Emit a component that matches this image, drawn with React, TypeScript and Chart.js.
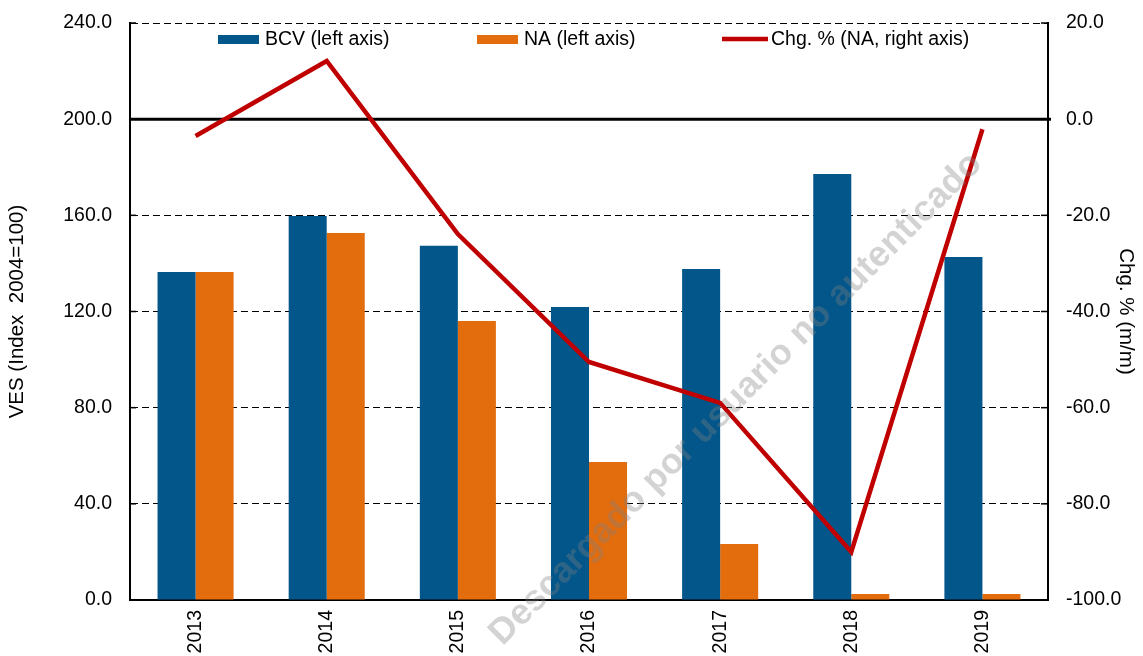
import React, { useEffect, useRef } from "react";
import { Chart, registerables } from "chart.js";

Chart.register(...registerables);

const years = ["2013", "2014", "2015", "2016", "2017", "2018", "2019"];
const bcvValues = [136.4, 159.7, 147.3, 121.9, 137.7, 177.2, 142.7];
const naValues = [136.4, 152.7, 116.1, 57.4, 23.3, 2.5, 2.5];
const chgValues = [-3.5, 12.1, -23.9, -50.5, -59.0, -90.0, -2.1];

const leftMin = 0;
const leftMax = 240;
const leftStep = 40;
const rightMin = -100;
const rightMax = 20;
const rightStep = 20;

const BLUE = "#02568A";
const ORANGE = "#E36C0D";
const RED = "#C00000";
const FONT = "'Liberation Sans', Arial, sans-serif";

const legendItems = [
  { label: "BCV (left axis)", color: BLUE, kind: "box" },
  { label: "NA (left axis)", color: ORANGE, kind: "box" },
  { label: "Chg. % (NA, right axis)", color: RED, kind: "line" },
];

const extrasPlugin = {
  id: "extras",
  beforeDatasetsDraw(chart: any) {
    const { ctx, chartArea, scales } = chart;
    const y0 = scales.y1.getPixelForValue(0);
    ctx.save();
    ctx.strokeStyle = "#000";
    ctx.lineWidth = 3;
    ctx.beginPath();
    ctx.moveTo(chartArea.left, y0);
    ctx.lineTo(chartArea.right + 3, y0);
    ctx.stroke();
    // inner tick marks
    ctx.lineWidth = 1.5;
    scales.y.ticks.forEach((t: any) => {
      const p = scales.y.getPixelForValue(t.value);
      ctx.beginPath();
      ctx.moveTo(chartArea.left, p);
      ctx.lineTo(chartArea.left + 6, p);
      ctx.stroke();
    });
    scales.y1.ticks.forEach((t: any) => {
      const p = scales.y1.getPixelForValue(t.value);
      ctx.beginPath();
      ctx.moveTo(chartArea.right - 7, p);
      ctx.lineTo(chartArea.right, p);
      ctx.stroke();
    });
    ctx.restore();
  },
  afterDraw(chart: any) {
    const { ctx, chartArea } = chart;
    ctx.save();
    // legend
    ctx.font = `19.5px ${FONT}`;
    ctx.textBaseline = "middle";
    ctx.fillStyle = "#000";
    const ly = chartArea.top + 17;
    const xs = [chartArea.left + 88, chartArea.left + 347, chartArea.left + 592];
    legendItems.forEach((it, i) => {
      const x = xs[i];
      if (it.kind === "box") {
        ctx.fillStyle = it.color;
        ctx.fillRect(x, ly - 5, 41, 9);
        ctx.fillStyle = "#000";
        ctx.fillText(it.label, x + 47, ly);
      } else {
        ctx.strokeStyle = it.color;
        ctx.lineWidth = 4.5;
        ctx.beginPath();
        ctx.moveTo(x, ly - 1);
        ctx.lineTo(x + 46, ly - 1);
        ctx.stroke();
        ctx.fillStyle = "#000";
        ctx.fillText(it.label, x + 49, ly);
      }
    });
    // watermark
    ctx.translate(chartArea.left + 606, chartArea.top + 376);
    ctx.rotate((-45 * Math.PI) / 180);
    ctx.font = `bold 36px ${FONT}`;
    ctx.textAlign = "center";
    ctx.textBaseline = "middle";
    ctx.fillStyle = "rgba(128,128,128,0.35)";
    ctx.fillText("Descargado por usuario no autenticado", 0, 0);
    ctx.restore();
  },
};

export default function App() {
  const ref = useRef<HTMLCanvasElement>(null);
  useEffect(() => {
    document.body.style.margin = "0";
    const chart = new Chart(ref.current as HTMLCanvasElement, {
      type: "bar",
      data: {
        labels: years,
        datasets: [
          {
            type: "line",
            label: "Chg. % (NA, right axis)",
            data: chgValues,
            borderColor: RED,
            backgroundColor: RED,
            borderWidth: 4.5,
            pointRadius: 0,
            tension: 0,
            yAxisID: "y1",
            order: 0,
          } as any,
          {
            label: "BCV (left axis)",
            data: bcvValues,
            backgroundColor: BLUE,
            yAxisID: "y",
            order: 1,
            categoryPercentage: 0.58,
            barPercentage: 1,
          },
          {
            label: "NA (left axis)",
            data: naValues,
            backgroundColor: ORANGE,
            yAxisID: "y",
            order: 1,
            categoryPercentage: 0.58,
            barPercentage: 1,
          },
        ],
      },
      options: {
        responsive: false,
        animation: false,
        layout: { padding: { top: 23, left: 0, right: 0, bottom: 0 } },
        plugins: { legend: { display: false }, tooltip: { enabled: false } },
        scales: {
          x: {
            grid: { display: false, drawTicks: false },
            border: { display: true, color: "#000", width: 2 },
            ticks: {
              color: "#000",
              font: { family: FONT, size: 19.5 },
              minRotation: 90,
              maxRotation: 90,
              autoSkip: false,
              padding: 10,
            },
            afterFit(s: any) {
              s.height = 56;
              s.paddingLeft = 0;
              s.paddingRight = 0;
            },
          },
          y: {
            position: "left",
            min: leftMin,
            max: leftMax,
            grid: {
              color: "#000",
              lineWidth: 1,
              drawTicks: false,
            },
            border: { display: true, color: "#000", width: 2, dash: [7, 4] as any },
            ticks: {
              stepSize: leftStep,
              color: "#000",
              font: { family: FONT, size: 19.5 },
              padding: 18,
              callback: (v: any) => Number(v).toFixed(1),
            },
            title: {
              display: true,
              text: "VES (Index  2004=100)",
              color: "#000",
              font: { family: FONT, size: 20.5 },
              padding: { top: 5, bottom: 0 },
            },
            afterFit(s: any) {
              s.width = 130;
              s.paddingTop = 0;
              s.paddingBottom = 0;
            },
          },
          y1: {
            position: "right",
            min: rightMin,
            max: rightMax,
            grid: { display: false, drawTicks: false },
            border: { display: true, color: "#000", width: 2 },
            ticks: {
              stepSize: rightStep,
              color: "#000",
              font: { family: FONT, size: 19.5 },
              padding: 18,
              callback: (v: any) => Number(v).toFixed(1),
            },
            title: {
              display: true,
              text: "Chg. % (m/m)",
              color: "#000",
              font: { family: FONT, size: 20.5 },
              padding: { top: 5, bottom: 0 },
            },
            afterFit(s: any) {
              s.width = 95;
              s.paddingTop = 0;
              s.paddingBottom = 0;
            },
          },
        },
      },
      plugins: [extrasPlugin],
    });
    return () => chart.destroy();
  }, []);
  return (
    <div style={{ width: 1143, height: 656, background: "#fff" }}>
      <canvas ref={ref} width={1143} height={656} />
    </div>
  );
}
